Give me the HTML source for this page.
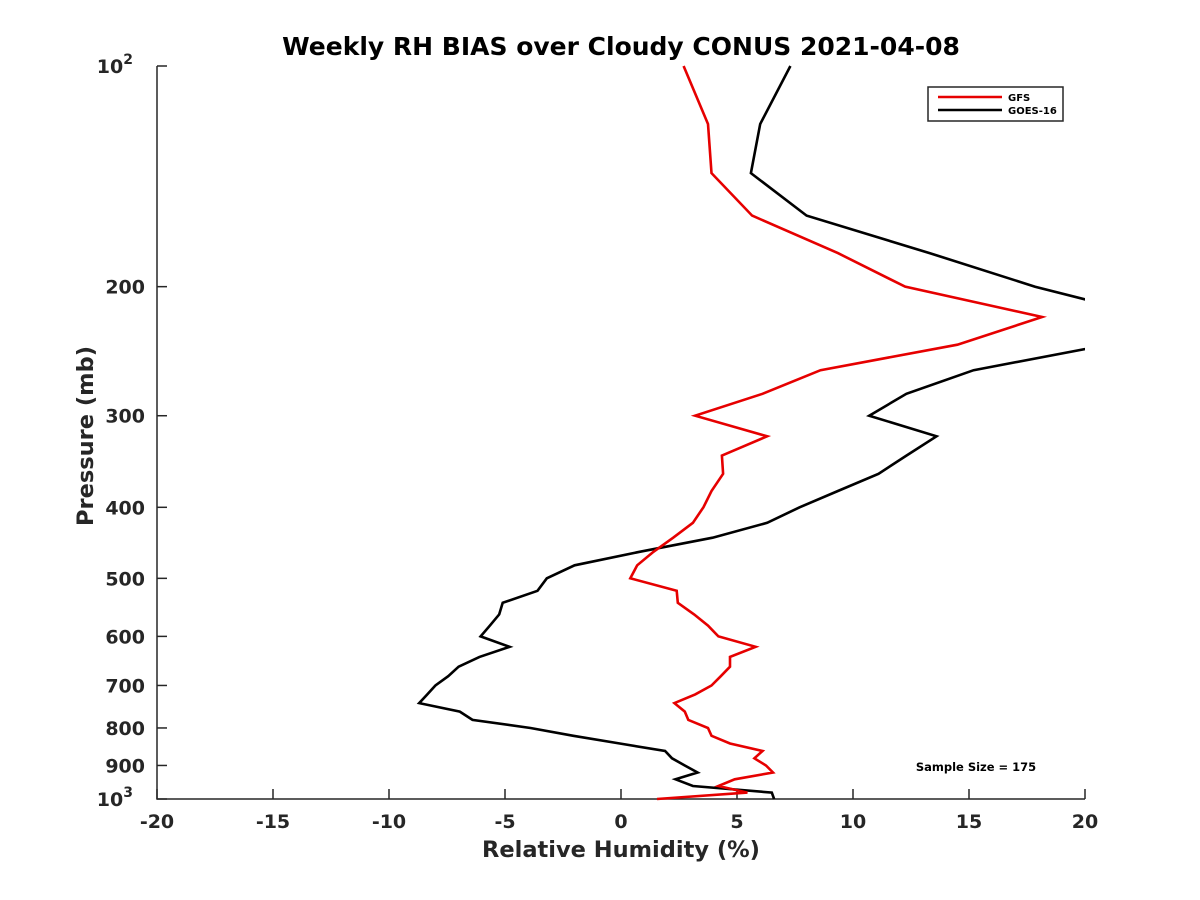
<!DOCTYPE html>
<html><head><meta charset="utf-8"><style>
html,body{margin:0;padding:0;background:#fff;}
svg{display:block;font-family:"DejaVu Sans","Liberation Sans",sans-serif;font-weight:bold;}
</style></head><body>
<svg id="chart" width="1200" height="900" viewBox="0 0 1200 900" xmlns="http://www.w3.org/2000/svg">
<defs><clipPath id="plotclip"><rect x="157" y="60" width="928" height="745"/></clipPath></defs>
<rect width="1200" height="900" fill="#fff"/>
<text x="621" y="55" text-anchor="middle" font-size="25" fill="#000">Weekly RH BIAS over Cloudy CONUS 2021-04-08</text>
<g id="axes"></g>
<g id="series" clip-path="url(#plotclip)"></g>
<text x="621" y="857" text-anchor="middle" font-size="22.5" fill="#262626">Relative Humidity (%)</text>
<text transform="translate(93,436) rotate(-90)" text-anchor="middle" font-size="22.5" fill="#262626">Pressure (mb)</text>
<g>
<rect x="928" y="87" width="135" height="34" fill="#fff" stroke="#262626" stroke-width="1.5"/>
<line x1="938" y1="97" x2="1002" y2="97" stroke="#e60000" stroke-width="2.5"/>
<text x="1008" y="101" font-size="10" fill="#000">GFS</text>
<line x1="938" y1="110" x2="1002" y2="110" stroke="#000" stroke-width="2.5"/>
<text x="1008" y="114" font-size="10" fill="#000">GOES-16</text>
</g>
<text x="976" y="771" text-anchor="middle" font-size="11.5" fill="#000">Sample Size = 175</text>
</svg>
<script>
const pressureLevels = [100,120,140,160,180,200,220,240,260,280,300,320,340,360,380,400,420,440,460,480,500,520,540,560,580,600,620,640,660,680,700,720,740,760,780,800,820,840,860,880,900,920,940,960,980,1000];
const gfsValues = [2.7,3.75,3.9,5.65,9.35,12.25,18.15,14.5,8.6,6.1,3.2,6.3,4.35,4.4,3.9,3.55,3.1,2.25,1.4,0.7,0.4,2.4,2.45,3.15,3.75,4.2,5.8,4.7,4.7,4.3,3.9,3.2,2.3,2.75,2.9,3.75,3.9,4.7,6.1,5.75,6.25,6.55,4.9,4.2,5.45,1.55];
const goesValues = [7.3,6.0,5.6,8.0,13.3,17.85,23,21,15.2,12.3,10.7,13.6,12.3,11.1,9.35,7.7,6.3,3.95,0.8,-2.0,-3.2,-3.6,-5.1,-5.25,-5.65,-6.05,-4.8,-6.1,-7.0,-7.45,-8.0,-8.35,-8.7,-6.95,-6.4,-3.9,-2.05,-0.05,1.9,2.2,2.75,3.3,2.35,3.1,6.5,6.6];
const xTicks = [-20,-15,-10,-5,0,5,10,15,20];
const yTicks = [100,200,300,400,500,600,700,800,900,1000];
const yTickLabels = ["10^2","200","300","400","500","600","700","800","900","10^3"];

const X0=157,X1=1085,Y0=66,Y1=799;
function xScale(v){return X0+(v+20)/40*(X1-X0);}
function yScale(p){return Y0+Math.log10(p/100)*(Y1-Y0);}
const NS="http://www.w3.org/2000/svg";
function mk(tag,attrs){const e=document.createElementNS(NS,tag);for(const k in attrs)e.setAttribute(k,attrs[k]);return e;}
const axes=document.getElementById('axes');
const ax=mk('path',{d:`M${X0},${Y0}V${Y1}H${X1}`,fill:'none',stroke:'#262626','stroke-width':1.5});


axes.appendChild(ax);
xTicks.forEach(v=>{
  const x=xScale(v);
  const t=mk('line',{x1:x,y1:Y1,x2:x,y2:Y1-10,stroke:'#262626','stroke-width':1.5});
  
  
  axes.appendChild(t);
  const l=mk('text',{x:x,y:Y1+29,'text-anchor':'middle','font-size':19,fill:'#262626'});
  l.textContent=String(v);
  
  
  axes.appendChild(l);
});
yTicks.forEach((p,i)=>{
  const y=yScale(p);
  const t=mk('line',{x1:X0,y1:y,x2:X0+10,y2:y,stroke:'#262626','stroke-width':1.5});
  
  
  axes.appendChild(t);
  const l=mk('text',{x:X0-12,y:y+7,'text-anchor':'end','font-size':19,fill:'#262626'});
  const lab=yTickLabels[i];
  if(lab.indexOf('^')>=0){
    const parts=lab.split('^');
    l.setAttribute('x',X0-24);
    l.textContent=parts[0];
    const s=mk('tspan',{dy:-9,'font-size':14});
    s.textContent=parts[1];
    l.appendChild(s);
  } else l.textContent=lab;
  
  
  axes.appendChild(l);
});
const series=document.getElementById('series');
function drawLine(vals,color,name){
  const d=vals.map((v,i)=>(i?'L':'M')+xScale(v).toFixed(1)+','+yScale(pressureLevels[i]).toFixed(1)).join('');
  const p=mk('path',{d:d,fill:'none',stroke:color,'stroke-width':2.6,'stroke-linejoin':'miter'});
  
  
  series.appendChild(p);
}
drawLine(goesValues,'#000','goes16-line');
drawLine(gfsValues,'#e60000','gfs-line');
</script>
</body></html>
